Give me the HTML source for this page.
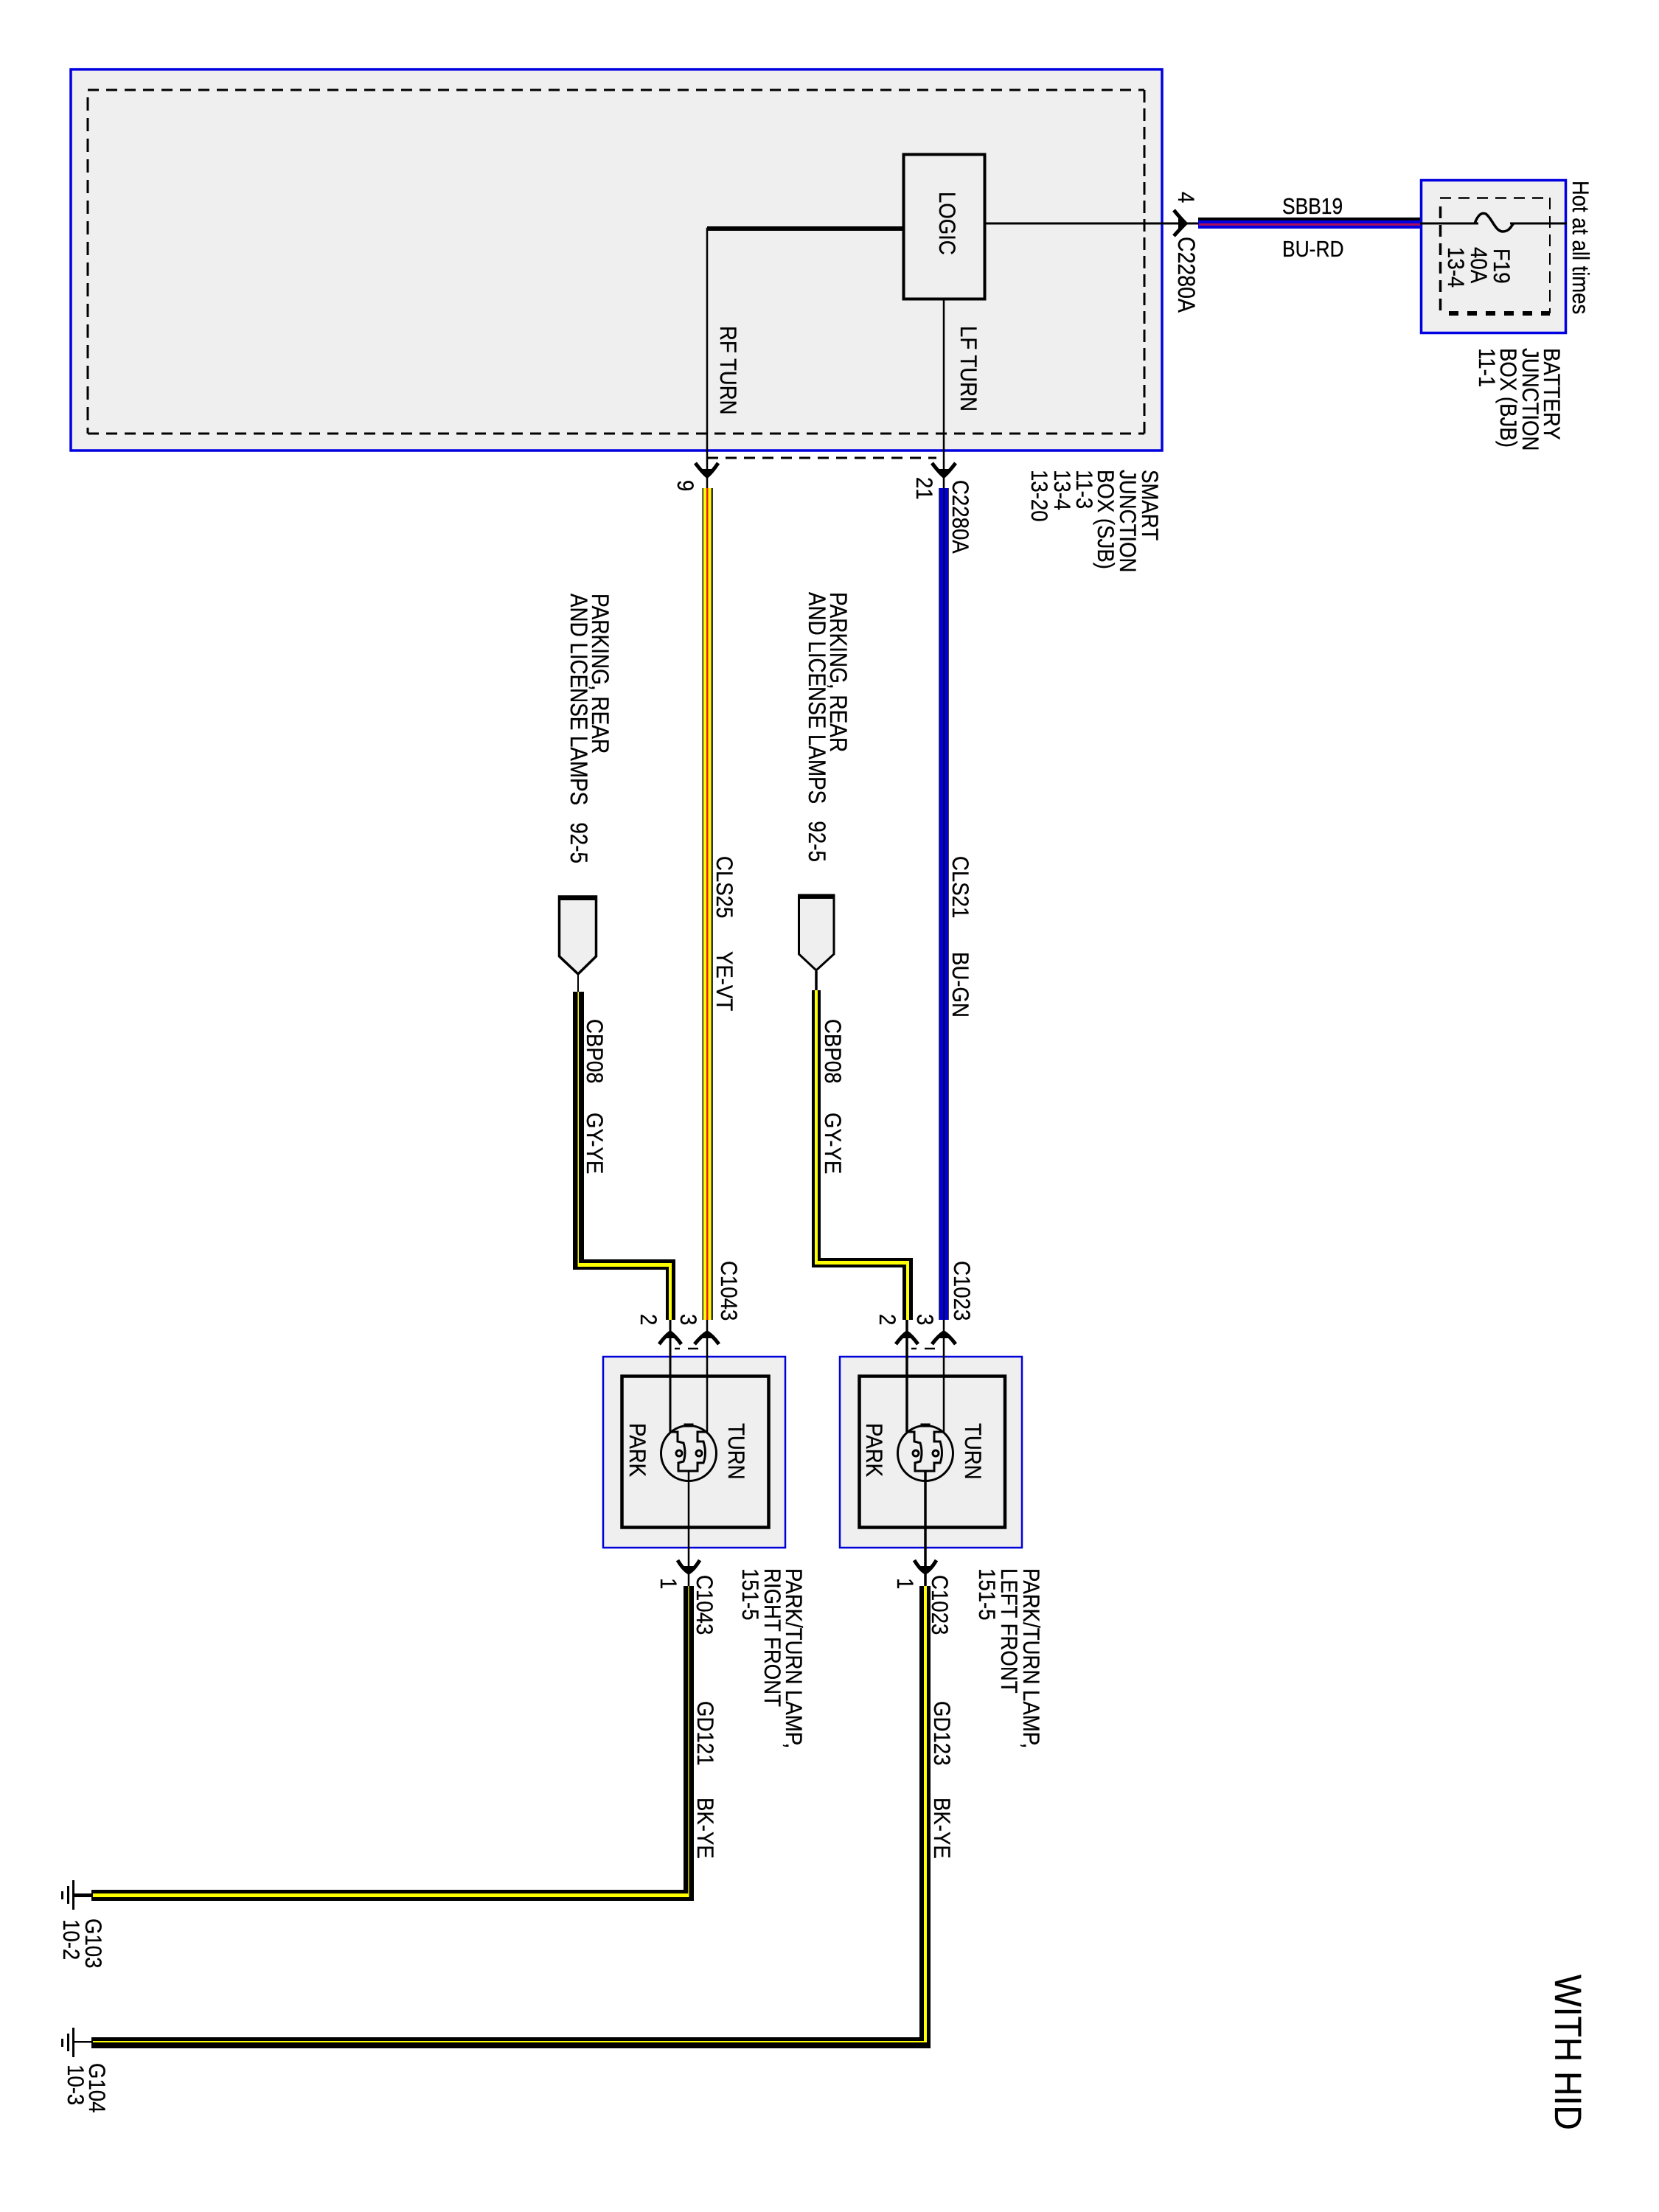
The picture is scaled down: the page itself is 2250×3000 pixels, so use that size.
<!DOCTYPE html>
<html><head><meta charset="utf-8"><style>
html,body{margin:0;padding:0;background:#fff}
svg{display:block}
text{font-family:"Liberation Sans",sans-serif;font-size:27.6px;fill:#000;stroke:#000;stroke-width:.25px}
</style></head><body>
<svg width="2250" height="3000" viewBox="0 0 2250 3000" xmlns="http://www.w3.org/2000/svg">
<rect width="2250" height="3000" fill="#fff"/>

<!-- SJB -->
<rect x="96" y="94" width="1480" height="517" fill="#efefef" stroke="#0000e0" stroke-width="3.5"/>
<g fill="none" stroke="#000" stroke-width="3">
<path d="M119,122H1552" stroke-dasharray="15 10"/>
<path d="M119,588H1552" stroke-dasharray="15 10"/>
<path d="M1552,122V588" stroke-dasharray="17 8"/>
<path d="M119,132V588" stroke-dasharray="18 10"/>
<path d="M959,621H1270" stroke-dasharray="15 10"/>
</g>
<!-- Logic -->
<rect x="1225.5" y="209.5" width="110" height="196" fill="#efefef" stroke="#000" stroke-width="4"/>
<path d="M1224,310H959V662" fill="none" stroke="#000" stroke-width="2.5"/>
<rect x="959" y="307" width="265" height="6"/>
<path d="M1280,407V662" stroke="#000" stroke-width="2.5"/>
<path d="M1337,303H2125" stroke="#000" stroke-width="3"/>

<!-- BJB -->
<rect x="1927.5" y="244.5" width="196" height="207" fill="#efefef" stroke="#0000e0" stroke-width="3.5"/>
<path d="M1926,303H2125" stroke="#000" stroke-width="3"/>
<path d="M1953,268.5H2102" stroke="#000" stroke-width="2.5" fill="none" stroke-dasharray="15 10"/>
<path d="M2102,268V425" stroke="#000" stroke-width="2" fill="none" stroke-dasharray="16 9"/>
<path d="M1953.5,280V425" stroke="#000" stroke-width="3.5" fill="none" stroke-dasharray="16 9"/>
<path d="M1965,425H2102" stroke="#000" stroke-width="6" fill="none" stroke-dasharray="13 12"/>
<path d="M2005,303H2048" stroke="#efefef" stroke-width="5"/>
<path d="M2000,303C2005,290 2010,288 2015,290C2023,295 2028,314 2038,314C2048,314 2050,305 2053,303" fill="none" stroke="#000" stroke-width="3.5"/>

<!-- top wire -->
<rect x="1625" y="295" width="301" height="4"/>
<rect x="1625" y="299" width="301" height="11" fill="#0000e0"/>
<rect x="1626" y="303" width="300" height="3" fill="#a8105c"/>

<!-- arrows -->
<g fill="none" stroke="#000" stroke-width="5" stroke-linejoin="miter">
<path d="M1592,285Q1601,296 1608,303Q1601,310 1592,320"/>
<path d="M943,628Q952,640 959,646Q966,640 974,628"/>
<path d="M1264,628Q1273,640 1280,646Q1287,640 1296,628"/>
<path d="M894,1823Q902,1812 909,1807Q916,1812 924,1823"/>
<path d="M942,1823Q951,1812 959,1807Q967,1812 975,1823"/>
<path d="M1215,1823Q1223,1812 1230,1807Q1237,1812 1245,1823"/>
<path d="M1264,1823Q1272,1812 1280,1807Q1288,1812 1296,1823"/>
<path d="M919,2116Q926,2128 934,2133Q942,2128 949,2116"/>
<path d="M1240,2116Q1247,2128 1255,2133Q1263,2128 1270,2116"/>
</g>
<g fill="#000">
<path d="M1598,296L1610,303L1598,310Z"/>
<path d="M952,636L959,649L966,636Z"/>
<path d="M1273,636L1280,649L1287,636Z"/>
<path d="M902,1815L909,1804L916,1815Z"/>
<path d="M952,1815L959,1804L966,1815Z"/>
<path d="M1223,1815L1230,1804L1237,1815Z"/>
<path d="M1273,1815L1280,1804L1287,1815Z"/>
<path d="M927,2124L934,2136L941,2124Z"/>
<path d="M1248,2124L1255,2136L1262,2124Z"/>
</g>

<!-- YE-VT wire -->
<rect x="952.5" y="662" width="14.5" height="1128" fill="#ffff00"/>
<rect x="952.5" y="662" width="1.5" height="1128" fill="#111"/>
<rect x="964.5" y="662" width="2.5" height="1128" fill="#333"/>
<rect x="958" y="662" width="2.5" height="1128" fill="#f01818"/>
<!-- BU-GN wire -->
<rect x="1273" y="662" width="14" height="1128" fill="#0000d8"/>
<rect x="1273" y="662" width="1" height="1128" fill="#444"/>
<rect x="1286" y="662" width="1" height="1128" fill="#444"/>
<rect x="1279.5" y="662" width="1.5" height="1128" fill="#000"/>

<!-- left CBP wire -->
<rect x="777" y="1345" width="15" height="377"/>
<rect x="777" y="1708" width="139" height="14"/>
<rect x="903" y="1708" width="13" height="82"/>
<rect x="783.5" y="1345" width="1.5" height="373" fill="#ffff00"/>
<rect x="783.5" y="1713" width="127.5" height="5" fill="#ffff00"/>
<rect x="907" y="1713" width="4" height="77" fill="#ffff00"/>
<!-- right CBP wire -->
<rect x="1101" y="1343" width="12" height="376"/>
<rect x="1101" y="1706" width="137" height="13"/>
<rect x="1224" y="1706" width="14" height="84"/>
<rect x="1105" y="1343" width="4" height="372" fill="#ffff00"/>
<rect x="1105" y="1710" width="128" height="5" fill="#ffff00"/>
<rect x="1229" y="1710" width="4" height="80" fill="#ffff00"/>

<!-- connector stubs -->
<path d="M758.5,1216V1297L784,1321L808.5,1297V1216Z" fill="#efefef" stroke="#000" stroke-width="3.5"/>
<rect x="757" y="1215" width="53" height="6"/>
<path d="M784,1322V1345" stroke="#000" stroke-width="2"/>
<path d="M1083.5,1214V1294L1107,1316L1131,1294V1214Z" fill="#efefef" stroke="#000" stroke-width="3"/>
<rect x="1082" y="1213" width="50" height="6"/>
<path d="M1107,1317V1343" stroke="#000" stroke-width="3.5"/>

<!-- left lamp -->
<rect x="818" y="1840" width="247" height="259" fill="#efefef" stroke="#0000d8" stroke-width="2.5"/>
<rect x="843.5" y="1866.5" width="199" height="205" fill="#efefef" stroke="#000" stroke-width="4.5"/>
<path d="M915,1829H922M933,1829H947" stroke="#000" stroke-width="2.5"/>
<path d="M909,1790V1942" stroke="#000" stroke-width="3"/>
<path d="M959,1790V1942" stroke="#000" stroke-width="2.5"/>
<path d="M934,1995V2152" stroke="#000" stroke-width="2.5"/>
<g transform="translate(934,1971)" fill="none" stroke="#000" stroke-width="3">
<circle r="37.5"/>
<path d="M-25,-29H-15V-16L-7,-14Q-3,0 -7,11L-14,13V24H12V13H20Q25,0 20,-16H12V-29H25"/>
<circle cx="-13" cy="0" r="4"/><circle cx="14" cy="0" r="4"/>
<rect x="-5" y="-39" width="10" height="2" fill="#000"/>
</g>
<!-- right lamp -->
<rect x="1139" y="1840" width="247" height="259" fill="#efefef" stroke="#0000d8" stroke-width="2.5"/>
<rect x="1165.5" y="1866.5" width="197.5" height="205" fill="#efefef" stroke="#000" stroke-width="4.5"/>
<path d="M1236,1829H1243M1254,1829H1268" stroke="#000" stroke-width="2.5"/>
<path d="M1230,1790V1942" stroke="#000" stroke-width="3.5"/>
<path d="M1280,1790V1942" stroke="#000" stroke-width="2.5"/>
<path d="M1255,1995V2152" stroke="#000" stroke-width="3.5"/>
<g transform="translate(1255,1971)" fill="none" stroke="#000" stroke-width="3">
<circle r="37.5"/>
<path d="M-25,-29H-15V-16L-7,-14Q-3,0 -7,11L-14,13V24H12V13H20Q25,0 20,-16H12V-29H25"/>
<circle cx="-13" cy="0" r="4"/><circle cx="14" cy="0" r="4"/>
<rect x="-5" y="-39" width="10" height="2" fill="#000"/>
</g>

<!-- ground wires -->
<rect x="927" y="2151" width="14" height="427"/>
<rect x="124" y="2563" width="817" height="15"/>
<rect x="933.3" y="2151" width="1.2" height="422" fill="#ffff00"/>
<rect x="126" y="2568" width="808" height="5" fill="#ffff00"/>
<rect x="1247" y="2151" width="15" height="627"/>
<rect x="124" y="2763" width="1138" height="15"/>
<rect x="1253" y="2151" width="4" height="619" fill="#ffff00"/>
<rect x="126" y="2768" width="1131" height="2" fill="#ffff00"/>

<!-- ground symbols -->
<g fill="#000">
<rect x="98" y="2550" width="3" height="40"/><rect x="91" y="2558" width="3" height="24"/><rect x="83" y="2565" width="3" height="11"/><rect x="99" y="2568" width="25" height="5"/>
<rect x="98" y="2750" width="3" height="40"/><rect x="91" y="2758" width="3" height="24"/><rect x="83" y="2765" width="3" height="11"/><rect x="99" y="2768" width="25" height="2.5"/>
</g>

<!-- horizontal labels -->
<text x="1739" y="290" transform="translate(0,290) scale(1,1.15) translate(0,-290)" style="font-size:26.4px">SBB19</text>
<text x="1739" y="348" transform="translate(0,348) scale(1,1.15) translate(0,-348)" style="font-size:26.4px">BU-RD</text>

<!-- rotated labels -->
<g>
<text transform="translate(1598,260) rotate(90) scale(1,1.13)">4</text>
<text transform="translate(1598,321) rotate(90) scale(1,1.13)" style="font-size:28.5px">C2280A</text>
<text transform="translate(1274,260) rotate(90) scale(1,1.15)">LOGIC</text>
<text transform="translate(977,442) rotate(90) scale(1,1.15)">RF TURN</text>
<text transform="translate(1303,442) rotate(90) scale(1,1.15)">LF TURN</text>

<text transform="translate(2133,245) rotate(90) scale(1,1.15)" style="font-size:27.4px">Hot at all times</text>
<text transform="translate(2026,337) rotate(90) scale(1,1.13)">F19</text>
<text transform="translate(1995,335) rotate(90) scale(1,1.13)">40A</text>
<text transform="translate(1964,335) rotate(90) scale(1,1.13)">13-4</text>

<text transform="translate(2094,472) rotate(90) scale(1,1.15)">BATTERY</text>
<text transform="translate(2065,472) rotate(90) scale(1,1.15)">JUNCTION</text>
<text transform="translate(2035,472) rotate(90) scale(1,1.15)">BOX (BJB)</text>
<text transform="translate(2006,472) rotate(90) scale(1,1.15)">11-1</text>

<text transform="translate(1549,637) rotate(90) scale(1,1.15)">SMART</text>
<text transform="translate(1519,637) rotate(90) scale(1,1.15)">JUNCTION</text>
<text transform="translate(1489,637) rotate(90) scale(1,1.15)">BOX (SJB)</text>
<text transform="translate(1460,637) rotate(90) scale(1,1.15)">11-3</text>
<text transform="translate(1430,637) rotate(90) scale(1,1.15)">13-4</text>
<text transform="translate(1399,637) rotate(90) scale(1,1.15)">13-20</text>

<text transform="translate(919,651) rotate(90) scale(1,1.15)">9</text>
<text transform="translate(1243,647) rotate(90) scale(1,1.15)">21</text>
<text transform="translate(1292,651) rotate(90) scale(1,1.15)">C2280A</text>

<text transform="translate(972,1161) rotate(90) scale(1,1.15)">CLS25</text>
<text transform="translate(972,1290) rotate(90) scale(1,1.15)">YE-VT</text>
<text transform="translate(1292,1161) rotate(90) scale(1,1.15)">CLS21</text>
<text transform="translate(1292,1291) rotate(90) scale(1,1.15)">BU-GN</text>

<text transform="translate(803,805) rotate(90) scale(1,1.15)" style="font-size:28px">PARKING, REAR</text>
<text transform="translate(774,805) rotate(90) scale(1,1.15)" style="font-size:27.8px">AND LICENSE LAMPS&#160;&#160; 92-5</text>
<text transform="translate(1126,803) rotate(90) scale(1,1.15)" style="font-size:28px">PARKING, REAR</text>
<text transform="translate(1097,803) rotate(90) scale(1,1.15)" style="font-size:27.8px">AND LICENSE LAMPS&#160;&#160; 92-5</text>

<text transform="translate(796,1382) rotate(90) scale(1,1.15)">CBP08</text>
<text transform="translate(796,1509) rotate(90) scale(1,1.15)">GY-YE</text>
<text transform="translate(1119,1382) rotate(90) scale(1,1.15)">CBP08</text>
<text transform="translate(1119,1509) rotate(90) scale(1,1.15)">GY-YE</text>

<text transform="translate(978,1710) rotate(90) scale(1,1.15)">C1043</text>
<text transform="translate(1294,1710) rotate(90) scale(1,1.15)">C1023</text>
<text transform="translate(869,1782) rotate(90) scale(1,1.15)">2</text>
<text transform="translate(923,1782) rotate(90) scale(1,1.15)">3</text>
<text transform="translate(1193,1782) rotate(90) scale(1,1.15)">2</text>
<text transform="translate(1244,1782) rotate(90) scale(1,1.15)">3</text>

<text transform="translate(854,1930) rotate(90) scale(1,1.15)">PARK</text>
<text transform="translate(988,1930) rotate(90) scale(1,1.15)">TURN</text>
<text transform="translate(1175,1930) rotate(90) scale(1,1.15)">PARK</text>
<text transform="translate(1309,1930) rotate(90) scale(1,1.15)">TURN</text>

<text transform="translate(896,2140) rotate(90) scale(1,1.15)">1</text>
<text transform="translate(1217,2140) rotate(90) scale(1,1.15)">1</text>
<text transform="translate(945,2136) rotate(90) scale(1,1.15)">C1043</text>
<text transform="translate(1264,2136) rotate(90) scale(1,1.15)">C1023</text>

<text transform="translate(1066,2127) rotate(90) scale(1,1.15)">PARK/TURN LAMP,</text>
<text transform="translate(1037,2127) rotate(90) scale(1,1.15)">RIGHT FRONT</text>
<text transform="translate(1007,2127) rotate(90) scale(1,1.15)">151-5</text>
<text transform="translate(1388,2127) rotate(90) scale(1,1.15)">PARK/TURN LAMP,</text>
<text transform="translate(1358,2127) rotate(90) scale(1,1.15)">LEFT FRONT</text>
<text transform="translate(1328,2127) rotate(90) scale(1,1.15)">151-5</text>

<text transform="translate(946,2307) rotate(90) scale(1,1.15)">GD121</text>
<text transform="translate(946,2438) rotate(90) scale(1,1.15)">BK-YE</text>
<text transform="translate(1267,2307) rotate(90) scale(1,1.15)">GD123</text>
<text transform="translate(1267,2438) rotate(90) scale(1,1.15)">BK-YE</text>

<text transform="translate(116,2602) rotate(90) scale(1,1.15)">G103</text>
<text transform="translate(86,2603) rotate(90) scale(1,1.15)">10-2</text>
<text transform="translate(121,2798) rotate(90) scale(1,1.15)">G104</text>
<text transform="translate(92,2800) rotate(90) scale(1,1.15)">10-3</text>

<text transform="translate(2109,2678) rotate(90) scale(1,1.1)" style="font-size:46.3px">WITH HID</text>
</g>
</svg>
</body></html>
